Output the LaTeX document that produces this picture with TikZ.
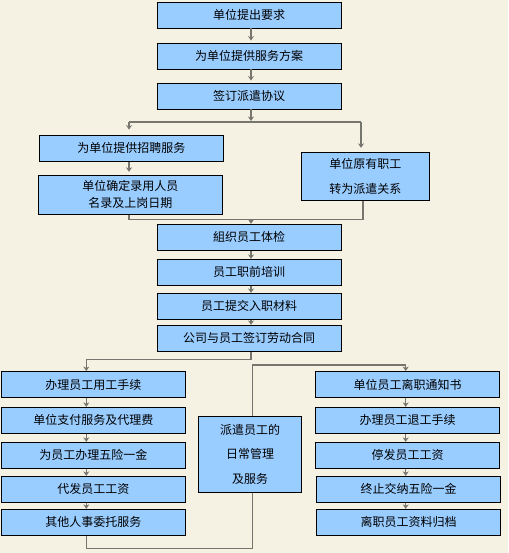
\documentclass[tikz,border=0pt]{standalone}
\usepackage{fontspec}
\newfontfamily\cjk{Noto Sans CJK SC}
\usetikzlibrary{arrows.meta}
\definecolor{bgc}{HTML}{F5F2E4}
\definecolor{boxc}{HTML}{99CCFF}
\definecolor{linec}{HTML}{76766E}
\tikzset{
  box/.style={draw=black, line width=0.9pt, fill=boxc, inner sep=0pt, align=center,
    font=\cjk\fontsize{12}{17}\selectfont},
  conn/.style={draw=linec, line width=1.2pt},
  arr/.style={conn, -{Stealth[length=4.5pt,width=6pt]}},
}
\begin{document}
\begin{tikzpicture}[x=1pt,y=-1pt]
\fill[bgc] (0,0) rectangle (508,553);
\useasboundingbox (0,0) rectangle (508,553);
% top column
\node[box, minimum width=184pt, minimum height=26pt] (b1) at (249,15) {单位提出要求};
\node[box, minimum width=184pt, minimum height=26pt] (b2) at (249,56) {为单位提供服务方案};
\node[box, minimum width=184pt, minimum height=26pt] (b3) at (249,96) {签订派遣协议};
% branches
\node[box, minimum width=184pt, minimum height=26.5pt] (l1) at (131.3,148.3) {为单位提供招聘服务};
\node[box, minimum width=184pt, minimum height=39pt] (l2) at (130.3,194.8) {单位确定录用人员\\名录及上岗日期};
\node[box, minimum width=128pt, minimum height=48pt, font=\cjk\fontsize{12}{24.3}\selectfont] (r0) at (365.3,176.3) {单位原有职工\\转为派遣关系};
% centre column
\node[box, minimum width=184pt, minimum height=26pt] (c1) at (249,237.3) {組织员工体检};
\node[box, minimum width=184pt, minimum height=26pt] (c2) at (249,272.3) {员工职前培训};
\node[box, minimum width=184pt, minimum height=26pt] (c3) at (249,306.3) {员工提交入职材料};
\node[box, minimum width=184pt, minimum height=26pt] (c4) at (249,338.3) {公司与员工签订劳动合同};
% left column
\node[box, minimum width=184pt, minimum height=26pt] (a1) at (93.3,384.5) {办理员工用工手续};
\node[box, minimum width=184pt, minimum height=26pt] (a2) at (93.3,420.3) {单位支付服务及代理费};
\node[box, minimum width=184pt, minimum height=26pt] (a3) at (93.3,455.3) {为员工办理五险一金};
\node[box, minimum width=184pt, minimum height=26pt] (a4) at (93.3,489.3) {代发员工工资};
\node[box, minimum width=184pt, minimum height=26pt] (a5) at (93.3,522.3) {其他人事委托服务};
% middle box
\node[box, minimum width=103.4pt, minimum height=76pt, font=\cjk\fontsize{12}{24.3}\selectfont] (m) at (250,454.3) {派遣员工的\\日常管理\\及服务};
% right column
\node[box, minimum width=184.4pt, minimum height=26pt] (d1) at (407.5,384.5) {单位员工离职通知书};
\node[box, minimum width=184.4pt, minimum height=26pt] (d2) at (407.5,420.3) {办理员工退工手续};
\node[box, minimum width=184.4pt, minimum height=26pt] (d3) at (407.5,455.3) {停发员工工资};
\node[box, minimum width=184.4pt, minimum height=26pt] (d4) at (408.5,489.3) {终止交纳五险一金};
\node[box, minimum width=184.4pt, minimum height=26pt] (d5) at (408.5,522.3) {离职员工资料归档};
% junction coordinates
\coordinate (j1) at (251,122);
\coordinate (j1l) at (129,122);
\coordinate (j1r) at (361,122);
\coordinate (j2) at (251,219.3);
\coordinate (j2l) at (129,219.3);
\coordinate (j2r) at (363,219.3);
\coordinate (j3) at (251,359.3);
\coordinate (j3l) at (86.3,359.3);
\coordinate (j4) at (252.7,365);
\coordinate (j4r) at (405.7,365);
\coordinate (j5l) at (86.3,548.3);
\coordinate (j5r) at (252.7,548.3);
% connectors
\draw[arr, shorten >=2pt] (b1.south -| j1) -- (b2.north -| j1);
\draw[arr, shorten >=2pt] (b2.south -| j1) -- (b3.north -| j1);
\draw[arr, shorten >=1pt] (b3.south -| j1) -- (j1);
\draw[conn] (j1l) -- (j1r);
\draw[arr, shorten >=5pt] (j1l) -- (l1.north -| j1l);
\draw[arr, shorten >=4pt] (j1r) -- (r0.north -| j1r);
\draw[arr, shorten >=3pt] (l1.south -| j1l) -- (l2.north -| j1l);
\draw[conn] (l2.south -| j2l) -- (j2l) -- (j2r) -- (r0.south -| j2r);
\draw[arr] (j2) -- (c1.north -| j2);
\draw[arr] (c1.south -| j2) -- (c2.north -| j2);
\draw[arr] (c2.south -| j2) -- (c3.north -| j2);
\draw[arr] (c3.south -| j2) -- (c4.north -| j2);
\draw[conn] (c4.south -| j3) -- (j3) -- (j3l);
\draw[arr] (j3l) -- (a1.north -| j3l);
\draw[arr] (a1.south -| j3l) -- (a2.north -| j3l);
\draw[arr] (a2.south -| j3l) -- (a3.north -| j3l);
\draw[arr] (a3.south -| j3l) -- (a4.north -| j3l);
\draw[arr] (a4.south -| j3l) -- (a5.north -| j3l);
\draw[conn] (a5.south -| j5l) -- (j5l) -- (j5r) -- (m.south -| j5r);
\draw[conn] (m.north -| j4) -- (j4) -- (j4r);
\draw[arr] (j4r) -- (d1.north -| j4r);
\draw[arr] (d1.south -| j4r) -- (d2.north -| j4r);
\draw[arr] (d2.south -| j4r) -- (d3.north -| j4r);
\draw[arr] (d3.south -| j4r) -- (d4.north -| j4r);
\draw[arr] (d4.south -| j4r) -- (d5.north -| j4r);
\end{tikzpicture}
\end{document}
